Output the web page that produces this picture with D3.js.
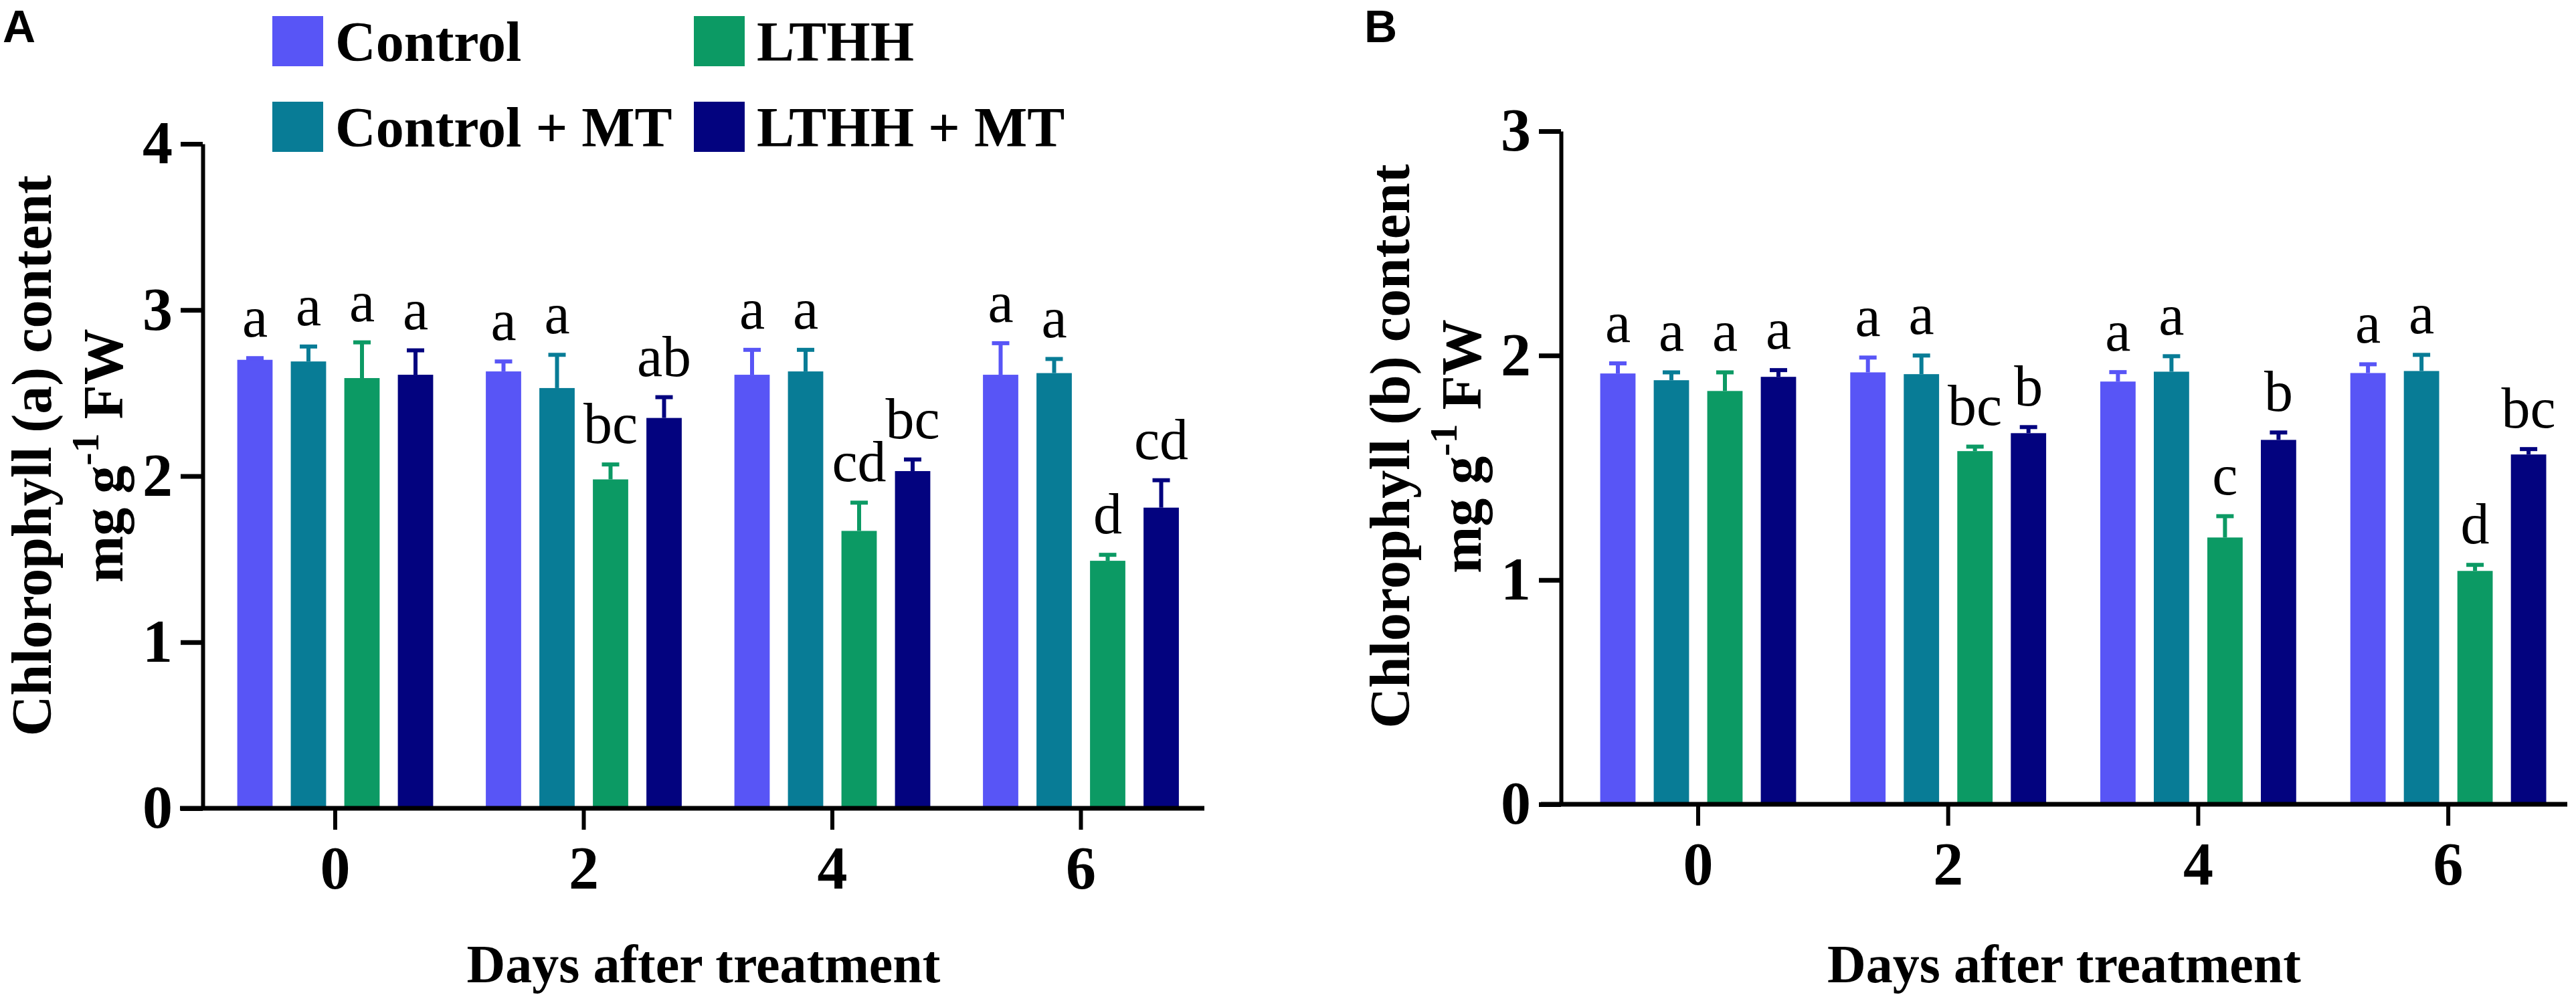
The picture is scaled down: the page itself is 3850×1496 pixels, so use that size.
<!DOCTYPE html>
<html>
<head>
<meta charset="utf-8">
<script src="https://cdn.jsdelivr.net/npm/d3@7"></script>
<style>
  body { margin: 0; background: #fff; }
  svg { display: block; }
</style>
</head>
<body>
<svg id="chart" width="3850" height="1496"></svg>
<script>
// days after treatment (x categories) and the four treatments
var days = ["0", "2", "4", "6"];
var treatments = ["Control", "Control + MT", "LTHH", "LTHH + MT"];
var barColors = ["#5855f6", "#087c96", "#0c9a64", "#03037f"];

// chlorophyll a, rows = treatment, columns = day
var chlaMean = [
    [2.70, 2.63, 2.61, 2.61],
    [2.69, 2.53, 2.63, 2.62],
    [2.59, 1.98, 1.67, 1.49],
    [2.61, 2.35, 2.03, 1.81]
];
var chlaErr = [
    [0.01, 0.06, 0.15, 0.19],
    [0.09, 0.20, 0.13, 0.085],
    [0.215, 0.09, 0.17, 0.036],
    [0.147, 0.125, 0.07, 0.165]
];
var chlaLetters = [
    ["a", "a", "a", "a"],
    ["a", "a", "a", "a"],
    ["a", "bc", "cd", "d"],
    ["a", "ab", "bc", "cd"]
];

// chlorophyll b
var chlbMean = [
    [1.92, 1.925, 1.884, 1.922],
    [1.89, 1.917, 1.928, 1.931],
    [1.842, 1.574, 1.189, 1.04],
    [1.905, 1.654, 1.624, 1.559]
];
var chlbErr = [
    [0.045, 0.066, 0.042, 0.039],
    [0.035, 0.083, 0.069, 0.072],
    [0.083, 0.02, 0.095, 0.027],
    [0.03, 0.027, 0.033, 0.024]
];
var chlbLetters = [
    ["a", "a", "a", "a"],
    ["a", "a", "a", "a"],
    ["a", "bc", "c", "d"],
    ["a", "b", "b", "bc"]
];

var yTicksA = [0, 1, 2, 3, 4];
var yTicksB = [0, 1, 2, 3];

var serif = "'Liberation Serif', 'Times New Roman', serif";
var sans = "'Liberation Sans', Arial, sans-serif";
var svg = d3.select("#chart");

function drawPanel(p) {
    var g = svg.append("g");

    var x = d3.scaleBand()
        .domain(days)
        .range([p.firstCenter - p.step / 2, p.firstCenter + p.step * 3.5])
        .padding(0);
    var inner = d3.scaleBand()
        .domain(treatments)
        .range([-160, 160])
        .paddingInner(0.34)
        .paddingOuter(0.17);
    var y = d3.scaleLinear()
        .domain([0, d3.max(p.ticks)])
        .range([p.y0, p.yTop]);

    // flatten to one record per bar
    var rows = [];
    treatments.forEach(function(t, i){
        days.forEach(function(d, j){
            rows.push({t: t, i: i, day: d, v: p.mean[i][j], e: p.err[i][j], lab: p.letters[i][j]});
        });
    });
    function cx(d){ return x(d.day) + x.bandwidth() / 2 + inner(d.t) + inner.bandwidth() / 2; }

    g.selectAll("rect.bar")
        .data(rows)
        .enter()
        .append("rect")
        .attr("class", "bar")
        .attr("x", function(d){ return cx(d) - inner.bandwidth() / 2; })
        .attr("y", function(d){ return y(d.v); })
        .attr("width", inner.bandwidth())
        .attr("height", function(d){ return y(0) - y(d.v); })
        .attr("fill", function(d){ return barColors[d.i]; });

    // upper error bars with caps
    g.selectAll("line.err")
        .data(rows)
        .enter()
        .append("line")
        .attr("class", "err")
        .attr("x1", cx).attr("x2", cx)
        .attr("y1", function(d){ return y(d.v); })
        .attr("y2", function(d){ return y(d.v + d.e); })
        .attr("stroke", function(d){ return barColors[d.i]; })
        .attr("stroke-width", 6);
    g.selectAll("line.cap")
        .data(rows)
        .enter()
        .append("line")
        .attr("class", "cap")
        .attr("x1", function(d){ return cx(d) - 13; })
        .attr("x2", function(d){ return cx(d) + 13; })
        .attr("y1", function(d){ return y(d.v + d.e); })
        .attr("y2", function(d){ return y(d.v + d.e); })
        .attr("stroke", function(d){ return barColors[d.i]; })
        .attr("stroke-width", 6);

    g.selectAll("text.sig")
        .data(rows)
        .enter()
        .append("text")
        .attr("class", "sig")
        .attr("x", cx)
        .attr("y", function(d){ return y(d.v + d.e) - 32; })
        .attr("text-anchor", "middle")
        .attr("font-family", serif)
        .attr("font-size", 86)
        .attr("fill", "#000")
        .text(function(d){ return d.lab; });

    // axes
    var gx = g.append("g")
        .attr("transform", "translate(0," + p.y0 + ")")
        .call(d3.axisBottom(x).tickSize(32).tickSizeOuter(0).tickPadding(24));
    gx.select(".domain")
        .attr("d", "M" + p.xStart + ",0H" + p.xEnd)
        .attr("stroke", "#000")
        .attr("stroke-width", 7);
    gx.selectAll(".tick line").attr("stroke", "#000").attr("stroke-width", 6);
    gx.selectAll(".tick text")
        .attr("font-family", serif)
        .attr("font-weight", "bold")
        .attr("font-size", 90)
        .attr("fill", "#000");

    var gy = g.append("g")
        .attr("transform", "translate(" + p.yAxisX + ",0)")
        .call(d3.axisLeft(y).tickValues(p.ticks).tickFormat(d3.format("d"))
            .tickSize(33).tickSizeOuter(0).tickPadding(12));
    gy.select(".domain").attr("stroke", "#000").attr("stroke-width", 6);
    gy.selectAll(".tick line").attr("stroke", "#000").attr("stroke-width", 7);
    gy.selectAll(".tick text")
        .attr("font-family", serif)
        .attr("font-weight", "bold")
        .attr("font-size", 90)
        .attr("fill", "#000");

    // axis titles
    g.append("text")
        .attr("x", (p.yAxisX + p.xEnd) / 2)
        .attr("y", 1468)
        .attr("text-anchor", "middle")
        .attr("font-family", serif)
        .attr("font-weight", "bold")
        .attr("font-size", 80)
        .text("Days after treatment");

    g.append("text")
        .attr("transform", "translate(" + (p.yAxisX - 227) + "," + p.titleY + ") rotate(-90)")
        .attr("text-anchor", "middle")
        .attr("font-family", serif)
        .attr("font-weight", "bold")
        .attr("font-size", 84)
        .text(p.title);

    var t2 = g.append("text")
        .attr("transform", "translate(" + (p.yAxisX - 120) + "," + p.titleY + ") rotate(-90)")
        .attr("text-anchor", "middle")
        .attr("font-family", serif)
        .attr("font-weight", "bold")
        .attr("font-size", 84);
    t2.append("tspan").text("mg g");
    t2.append("tspan").attr("dy", -36).attr("font-size", 58).text("-1");
    t2.append("tspan").attr("dy", 36).text(" FW");

    g.append("text")
        .attr("x", p.tagX)
        .attr("y", 63)
        .attr("font-family", sans)
        .attr("font-weight", "bold")
        .attr("font-size", 68)
        .text(p.tag);
}

drawPanel({
    mean: chlaMean, err: chlaErr, letters: chlaLetters, ticks: yTicksA,
    firstCenter: 501, step: 371.5,
    y0: 1208, yTop: 215,
    yAxisX: 303, xStart: 269, xEnd: 1800,
    title: "Chlorophyll (a) content", titleY: 681,
    tag: "A", tagX: 4
});
drawPanel({
    mean: chlbMean, err: chlbErr, letters: chlbLetters, ticks: yTicksB,
    firstCenter: 2538, step: 373.7,
    y0: 1202, yTop: 196,
    yAxisX: 2333, xStart: 2303, xEnd: 3837,
    title: "Chlorophyll (b) content", titleY: 667,
    tag: "B", tagX: 2039
});

// legend (panel A)
var legendPos = [[407, 24], [407, 152], [1037, 24], [1037, 152]];
var legend = svg.append("g");
legend.selectAll("rect")
    .data(treatments)
    .enter()
    .append("rect")
    .attr("x", function(d, i){ return legendPos[i][0]; })
    .attr("y", function(d, i){ return legendPos[i][1]; })
    .attr("width", 76)
    .attr("height", 75)
    .attr("fill", function(d, i){ return barColors[i]; });
legend.selectAll("text")
    .data(treatments)
    .enter()
    .append("text")
    .attr("x", function(d, i){ return legendPos[i][0] + 94; })
    .attr("y", function(d, i){ return legendPos[i][1] + 67; })
    .attr("font-family", serif)
    .attr("font-weight", "bold")
    .attr("font-size", 84)
    .text(function(d){ return d; });
</script>
</body>
</html>
